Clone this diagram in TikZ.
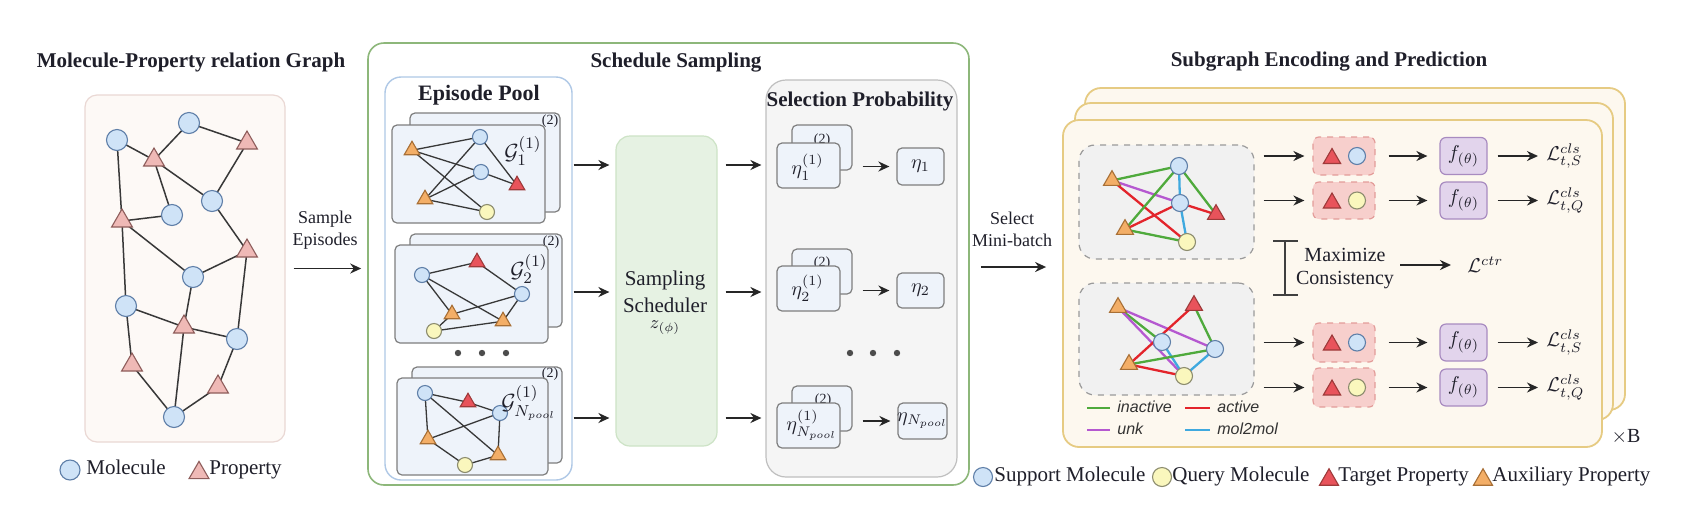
\documentclass[tikz,border=0pt]{standalone}
\usepackage{fontspec}
\setmainfont{Liberation Serif}
\setsansfont{Liberation Sans}
\usetikzlibrary{shapes.geometric,arrows.meta,fit}
\pgfdeclarelayer{bg}
\pgfdeclarelayer{edges}
\pgfsetlayers{bg,edges,main}
\definecolor{molF}{HTML}{CFE3F7}
\definecolor{molD}{HTML}{5F7FA8}
\definecolor{qryF}{HTML}{FAF7BD}
\definecolor{qryD}{HTML}{8C8C6E}
\definecolor{ppF}{HTML}{EFB9B6}
\definecolor{ppD}{HTML}{8E5D5B}
\definecolor{tgF}{HTML}{E8535B}
\definecolor{tgD}{HTML}{9E3A3A}
\definecolor{auF}{HTML}{F3AE67}
\definecolor{auD}{HTML}{A86F35}
\definecolor{gboxF}{HTML}{FDF9F6}
\definecolor{gboxD}{HTML}{EAD8D4}
\definecolor{ssD}{HTML}{8DB77A}
\definecolor{epD}{HTML}{AFC8E6}
\definecolor{cardF}{HTML}{EEF3FA}
\definecolor{cardD}{HTML}{7E7E7E}
\definecolor{schF}{HTML}{E6F2E3}
\definecolor{schD}{HTML}{CDE3C6}
\definecolor{selF}{HTML}{F5F5F5}
\definecolor{selD}{HTML}{BFBFBF}
\definecolor{sgF}{HTML}{FDF8EF}
\definecolor{sgD}{HTML}{E6CB83}
\definecolor{dashF}{HTML}{F1F1F1}
\definecolor{dashD}{HTML}{9A9A9A}
\definecolor{pkF}{HTML}{F7CFCC}
\definecolor{pkD}{HTML}{E39C99}
\definecolor{fF}{HTML}{E2D4EC}
\definecolor{fD}{HTML}{A88BC0}
\definecolor{eG}{HTML}{4FAA3C}
\definecolor{eR}{HTML}{E3242B}
\definecolor{eP}{HTML}{B558D0}
\definecolor{eB}{HTML}{3FA9DF}
\definecolor{ink}{HTML}{1F1F2A}
\begin{document}
\begin{tikzpicture}[x=0.5pt,y=-0.5pt,
  mol/.style={circle,draw=molD,fill=molF,line width=0.55pt,inner sep=0pt,minimum size=#1},
  mol/.default=10.5pt,
  qry/.style={circle,draw=qryD,fill=qryF,line width=0.55pt,inner sep=0pt,minimum size=#1},
  qry/.default=7.5pt,
  trib/.style={regular polygon,regular polygon sides=3,inner sep=0pt,line width=0.55pt,minimum size=#1,yshift=-#1/8},
  pp/.style={trib=#1,draw=ppD,fill=ppF}, pp/.default=12pt,
  tg/.style={trib=#1,draw=tgD,fill=tgF}, tg/.default=9pt,
  au/.style={trib=#1,draw=auD,fill=auF}, au/.default=9pt,
  ge/.style={draw=black!78,line width=0.75pt},
  ce/.style={line width=1.15pt},
  arr/.style={draw=black!85,line width=0.9pt,-{Stealth[length=5.5pt,width=5pt]}},
  fbox/.style={inner sep=0pt},
  card/.style={fbox,draw=cardD,fill=cardF,line width=0.6pt,rounded corners=2.5pt},
  ttl/.style={font=\fontsize{10.5}{12}\selectfont\bfseries,text=ink,inner sep=0pt},
  txt/.style={font=\fontsize{10.5}{13.5}\selectfont,text=ink,inner sep=0pt,align=center},
  stxt/.style={font=\fontsize{9}{11}\selectfont,text=ink,inner sep=0pt,align=center},
  mth/.style={font=\fontsize{10}{12}\selectfont,text=ink,inner sep=0pt},
  glab/.style={font=\fontsize{11}{12}\selectfont,text=ink,inner sep=0pt,anchor=west},
  sup/.style={font=\fontsize{7}{8}\selectfont,text=ink,inner sep=0pt},
  lg/.style={font=\sffamily\itshape\fontsize{8}{9}\selectfont,text=black!80,inner sep=0pt,anchor=mid west},
  dot/.style={circle,fill=black!70,inner sep=0pt,minimum size=3.2pt}
]
\useasboundingbox (0,0) rectangle (1692,505);
\begin{pgfonlayer}{bg}
\fill[white] (0,0) rectangle (1692,505);
% left graph box
\node[fbox,fit={(85,95)(285,442)},draw=gboxD,fill=gboxF,line width=0.6pt,rounded corners=6pt] (gbox) {};
% schedule sampling
\node[fbox,fit={(368,43)(969,485)},draw=ssD,line width=0.8pt,rounded corners=8pt,fill=white] (ssbox) {};
\node[fbox,fit={(385,77)(572,480)},draw=epD,line width=0.7pt,rounded corners=8pt,fill=white] (ep) {};
% episode cards
\node[card,fit={(410,113)(560,212)}] (eb1) {};
\node[sup] (lb1) at (550,121) {(2)};
\node[card,fit={(392,125)(545,223)}] (ef1) {};
\node[card,fit={(410,234)(562,327)}] (eb2) {};
\node[sup] (lb2) at (551,242) {(2)};
\node[card,fit={(395,245)(548,343)}] (ef2) {};
\node[card,fit={(412,367)(562,463)}] (eb3) {};
\node[sup] (lb3) at (550,374) {(2)};
\node[card,fit={(397,378)(548,475)}] (ef3) {};
% scheduler
\node[fbox,fit={(616,136)(717,446)},draw=schD,fill=schF,line width=0.6pt,rounded corners=7pt] (sch) {};
% selection probability
\node[fbox,fit={(766,80)(957,477)},draw=selD,fill=selF,line width=0.6pt,rounded corners=10pt] (sel) {};
\node[card,fit={(792,125)(852,170)}] (sb1) {};
\node[sup] (sl1) at (822,140) {(2)};
\node[card,fit={(777,143)(840,188)}] (sf1) {};
\node[card,fit={(792,249)(852,294)}] (sb2) {};
\node[sup] (sl2) at (822,263) {(2)};
\node[card,fit={(777,266)(840,311)}] (sf2) {};
\node[card,fit={(792,386)(852,431)}] (sb3) {};
\node[sup] (sl3) at (823,400) {(2)};
\node[card,fit={(777,403)(840,448)}] (sf3) {};
\node[card,fit={(897,148)(944,185)}] (r1) {};
\node[card,fit={(897,273)(944,308)}] (r2) {};
\node[card,fit={(898,403)(947,439)}] (r3) {};
% subgraph stack
\node[fbox,fit={(1085,88)(1625,410)},draw=sgD,fill=sgF,line width=0.9pt,rounded corners=8pt] (sgb) {};
\node[fbox,fit={(1075,103)(1613,420)},draw=sgD,fill=sgF,line width=0.9pt,rounded corners=8pt] (sgm) {};
\node[fbox,fit={(1063,120)(1602,447)},draw=sgD,fill=sgF,line width=0.9pt,rounded corners=8pt] (sgf) {};
\node[fbox,fit={(1079,145)(1254,259)},draw=dashD,fill=dashF,dashed,line width=0.6pt,rounded corners=8pt] (db1) {};
\node[fbox,fit={(1079,283)(1254,395)},draw=dashD,fill=dashF,dashed,line width=0.6pt,rounded corners=8pt] (db2) {};
\node[fbox,fit={(1313,137)(1375,175)},draw=pkD,fill=pkF,dashed,line width=0.6pt,rounded corners=3pt] (pk1) {};
\node[fbox,fit={(1313,182)(1375,219)},draw=pkD,fill=pkF,dashed,line width=0.6pt,rounded corners=3pt] (pk2) {};
\node[fbox,fit={(1313,323)(1375,362)},draw=pkD,fill=pkF,dashed,line width=0.6pt,rounded corners=3pt] (pk3) {};
\node[fbox,fit={(1313,368)(1375,407)},draw=pkD,fill=pkF,dashed,line width=0.6pt,rounded corners=3pt] (pk4) {};
\end{pgfonlayer}

% ---- titles
\node[ttl] (t1) at (191,62) {Molecule-Property relation Graph};
\node[ttl] (t2) at (676,63) {Schedule Sampling};
\node[ttl,font=\fontsize{11}{12}\selectfont\bfseries] (t3) at (479,95) {Episode Pool};
\node[ttl] (t4) at (860,101) {Selection Probability};
\node[ttl] (t5) at (1329,62) {Subgraph Encoding and Prediction};

% ---- left graph
\node[mol] (m1) at (117,140) {};
\node[mol] (m2) at (189,123) {};
\node[pp] (p1) at (247,140) {};
\node[pp] (p2) at (154,157) {};
\node[mol] (m3) at (212,201) {};
\node[mol] (m4) at (172,215) {};
\node[pp] (p3) at (122,218) {};
\node[pp] (p4) at (247,248) {};
\node[mol] (m5) at (193,277) {};
\node[mol] (m6) at (126,306) {};
\node[pp] (p5) at (184,324) {};
\node[mol] (m7) at (237,339) {};
\node[pp] (p6) at (132,362) {};
\node[pp] (p7) at (218,384) {};
\node[mol] (m8) at (174,417) {};
\begin{pgfonlayer}{edges}
\foreach \a/\b in {m1/p2,p2/m2,m2/p1,p1/m3,p2/m3,p2/m4,m1/p3,p3/m4,p3/m5,m5/p4,m3/p4,p3/m6,m6/p5,m5/p5,p5/m7,p4/m7,m6/p6,p6/m8,p5/m8,m8/p7,p7/m7}
  \draw[ge] (\a.center) -- (\b.center);
\end{pgfonlayer}
% left legend
\node[mol=10pt] (lm) at (70,470) {};
\node[txt,anchor=mid west] (lmt) at (86,470) {Molecule};
\node[pp=11.5pt] (lp) at (199,470) {};
\node[txt,anchor=mid west] (lpt) at (209,470) {Property};

% sample episodes
\node[stxt] (se) at (325,230) {Sample\\Episodes};
\draw[arr] ([xshift=4pt]gbox.east) -- ([xshift=-3pt]ssbox.west |- gbox.east);

% ---- episode card graphs
\node[au] (a1) at (412,148) {};
\node[mol=7.5pt] (b1) at (480,137) {};
\node[mol=7.5pt] (c1) at (481,172) {};
\node[tg] (d1) at (517,183) {};
\node[au] (e1) at (425,197) {};
\node[qry] (f1) at (487,212) {};
\node[mol=7.5pt] (c21) at (422,275) {};
\node[tg] (t2r) at (477,260) {};
\node[mol=7.5pt] (c22) at (522,294) {};
\node[au] (a21) at (452,312) {};
\node[au] (a22) at (503,319) {};
\node[qry] (q2) at (434,331) {};
\node[mol=7.5pt] (c31) at (425,393) {};
\node[tg] (t3r) at (468,400) {};
\node[mol=7.5pt] (c32) at (500,413) {};
\node[au] (a31) at (428,437) {};
\node[au] (a32) at (498,453) {};
\node[qry] (q3) at (465,465) {};
\begin{pgfonlayer}{edges}
\foreach \a/\b in {a1/b1,a1/c1,a1/f1,e1/b1,e1/c1,e1/f1,b1/d1,c1/d1,
  c21/t2r,t2r/c22,c21/a21,c21/a22,a21/c22,c22/a22,q2/a21,q2/a22,
  c31/t3r,t3r/c32,c31/a31,c31/a32,a31/c32,c32/a32,a31/q3,q3/a32}
  \draw[ge,line width=0.65pt] (\a.center) -- (\b.center);
\end{pgfonlayer}
\node[glab] (lf1) at (504,151) {$\mathcal{G}_1^{(1)}$};
\node[glab] (lf2) at (510,269) {$\mathcal{G}_2^{(1)}$};
\node[glab] (lf3) at (501,403) {$\mathcal{G}_{N_{pool}}^{(1)}$};
\node[dot] (ed1) at (458,353) {};
\node[dot] (ed2) at (482,353) {};
\node[dot] (ed3) at (506,353) {};

% ---- scheduler
\node[txt] (schT) at (665,291.5) {Sampling\\Scheduler};
\node[mth,font=\fontsize{9}{10}\selectfont] (schZ) at (665,328) {$z_{(\phi)}$};
\coordinate (row1) at (600,165);
\coordinate (row2) at (600,292);
\coordinate (row3) at (600,418);
\foreach \r in {row1,row2,row3}{
  \draw[arr] ([xshift=0.5pt]ep.east |- \r) -- ([xshift=-3pt]sch.west |- \r);
  \draw[arr] ([xshift=4pt]sch.east |- \r) -- ([xshift=-2pt]sel.west |- \r);
}

% ---- selection probability
\node[mth,anchor=west] (sfl1) at (791,167) {$\eta_1^{(1)}$};
\node[mth,anchor=west] (sfl2) at (791,288) {$\eta_2^{(1)}$};
\node[mth,anchor=west] (sfl3) at (786,425) {$\eta_{N_{pool}}^{(1)}$};
\node[mth] (rl1) at (r1) {$\eta_1$};
\node[mth] (rl2) at (r2) {$\eta_2$};
\node[mth] (rl3) at (r3) {$\eta_{N_{pool}}$};
\draw[arr] ([xshift=5pt]sb1.east |- r1.west) -- ([xshift=-3.5pt]r1.west);
\draw[arr] ([xshift=5pt]sb2.east |- r2.west) -- ([xshift=-3.5pt]r2.west);
\draw[arr] ([xshift=5pt]sb3.east |- r3.west) -- ([xshift=-3.5pt]r3.west);
\node[dot] (sd1) at (850,353) {};
\node[dot] (sd2) at (873,353) {};
\node[dot] (sd3) at (897,353) {};

% select mini-batch
\node[stxt] (smb) at (1012,229) {Select\\Mini-batch};
\coordinate (smbS) at (1000,267);
\draw[arr] ([xshift=5.5pt]ssbox.east |- smbS) -- ([xshift=-8pt]sgf.west |- smbS);

% ---- subgraph graphs
\node[au=9.8pt] (ga) at (1112,178) {};
\node[mol=8.5pt] (gb) at (1179,166) {};
\node[mol=8.5pt] (gc) at (1180,203) {};
\node[tg=9.8pt] (gd) at (1216,212) {};
\node[au=9.8pt] (gE) at (1125,227) {};
\node[qry=8.5pt] (gf) at (1187,242) {};
\node[au=9.8pt] (ha) at (1118,305) {};
\node[tg=9.8pt] (hb) at (1194,303) {};
\node[mol=8.5pt] (hc) at (1162,342) {};
\node[mol=8.5pt] (hd) at (1215,349) {};
\node[au=9.8pt] (hE) at (1129,362) {};
\node[qry=8.5pt] (hf) at (1184,376) {};
\begin{pgfonlayer}{edges}
\foreach \a/\b/\c in {ga/gb/eG,ga/gc/eP,ga/gf/eR,gb/gE/eG,gb/gd/eG,gb/gc/eB,gc/gf/eB,gc/gd/eR,gc/gE/eR,gE/gf/eG,
  ha/hc/eG,ha/hd/eP,ha/hf/eP,hb/hE/eR,hb/hd/eG,hc/hf/eB,hd/hf/eB,hE/hd/eG,hE/hf/eR}
  \draw[ce,draw=\c] (\a.center) -- (\b.center);
\end{pgfonlayer}
% legend inside
\coordinate (lg1a) at (1087,408); \coordinate (lg1b) at (1110,408);
\coordinate (lg2a) at (1185,408); \coordinate (lg2b) at (1210,408);
\coordinate (lg3a) at (1087,430); \coordinate (lg3b) at (1110,430);
\coordinate (lg4a) at (1185,430); \coordinate (lg4b) at (1210,430);
\draw[ce,draw=eG] (lg1a) -- (lg1b);
\draw[ce,draw=eR] (lg2a) -- (lg2b);
\draw[ce,draw=eP] (lg3a) -- (lg3b);
\draw[ce,draw=eB] (lg4a) -- (lg4b);
\node[lg] (lgt1) at (1117,408) {inactive};
\node[lg] (lgt2) at (1217,408) {active};
\node[lg] (lgt3) at (1117,430) {unk};
\node[lg] (lgt4) at (1217,430) {mol2mol};

% pink boxes content
\node[tg=10pt] (k1t) at (1332,156) {};
\node[mol=8.5pt] (k1c) at (1357,156) {};
\node[tg=10pt] (k2t) at (1332,200.5) {};
\node[qry=8.5pt] (k2c) at (1357,200.5) {};
\node[tg=10pt] (k3t) at (1332,342.5) {};
\node[mol=8.5pt] (k3c) at (1357,342.5) {};
\node[tg=10pt] (k4t) at (1332,387.5) {};
\node[qry=8.5pt] (k4c) at (1357,387.5) {};

% f boxes and losses
\foreach \i/\y/\q in {1/156/S,2/200.5/Q,3/342.5/S,4/387.5/Q}{
  \node[fbox,draw=fD,fill=fF,line width=0.6pt,rounded corners=3pt,minimum width=23.5pt,minimum height=18.5pt,mth] (f\i) at (1463.5,\y) {$f_{(\theta)}$};
  \node[mth,anchor=west] (L\i) at (1546,\y) {$\mathcal{L}^{cls}_{t,\q}$};
  \draw[arr] ([xshift=4.5pt]db1.east |- pk\i.west) -- ([xshift=-4pt]pk\i.west);
  \draw[arr] ([xshift=6.5pt]pk\i.east) -- ([xshift=-6pt]f\i.west);
  \draw[arr] ([xshift=5pt]f\i.east) -- ([xshift=-4pt]L\i.west);
}

% maximize consistency
\coordinate (bt) at (1285,241);
\coordinate (bb) at (1285,295);
\draw[black!75,line width=0.9pt] (bt) -- (bb);
\draw[black!75,line width=0.9pt] ([xshift=-6pt]bt) -- ([xshift=6.5pt]bt);
\draw[black!75,line width=0.9pt] ([xshift=-6pt]bb) -- ([xshift=6.5pt]bb);
\node[txt,font=\fontsize{10}{11.5}\selectfont] (mx) at (1345,268.5) {Maximize\\Consistency};
\node[mth,anchor=west] (Lc) at (1467,265) {$\mathcal{L}^{ctr}$};
\draw[arr] ([xshift=3pt]mx.east |- Lc.west) -- ([xshift=-8pt]Lc.west);
\node[mth] (xB) at (1626,437) {$\times$B};

% bottom legend
\node[mol=9.5pt] (bl1) at (983,477) {};
\node[txt,anchor=mid west] (blt1) at (994,477) {Support Molecule};
\node[qry=9.5pt] (bl2) at (1162,477) {};
\node[txt,anchor=mid west] (blt2) at (1172,477) {Query Molecule};
\node[tg=11pt] (bl3) at (1329,477) {};
\node[txt,anchor=mid west] (blt3) at (1338,477) {Target Property};
\node[au=11pt] (bl4) at (1483,477) {};
\node[txt,anchor=mid west] (blt4) at (1492,477) {Auxiliary Property};
\end{tikzpicture}
\end{document}
